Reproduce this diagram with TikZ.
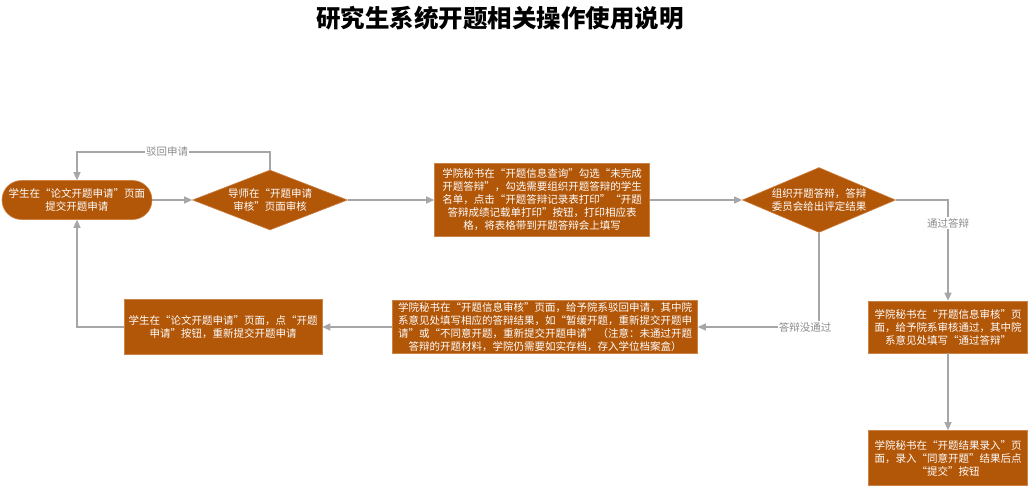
\documentclass[tikz,border=0pt]{standalone}
\usepackage{fontspec}
\setmainfont{Noto Sans CJK SC}
\usetikzlibrary{shapes.geometric,arrows.meta}
\definecolor{boxfill}{RGB}{178,86,8}
\definecolor{boxline}{RGB}{205,130,70}
\definecolor{flowgray}{RGB}{166,166,166}
\definecolor{labgray}{RGB}{140,140,140}
\tikzset{
  base/.style={fill=boxfill, draw=boxline, line width=0.6pt, text=white, align=center,
    font=\fontsize{10.5}{13}\selectfont, inner sep=2pt},
  procbox/.style={base, rectangle},
  startbox/.style={base, rectangle, rounded corners=19.5pt},
  decision/.style={base, diamond, aspect=2.58, inner sep=0pt},
  flow/.style={draw=flowgray, line width=1.2pt, -{Triangle[length=8pt,width=7pt]}},
  flowlabel/.style={fill=white, text=labgray, font=\fontsize{10.5}{12}\selectfont, inner sep=1pt}
}
\begin{document}
\begin{tikzpicture}[x=1pt,y=-1pt]
\useasboundingbox (0,0) rectangle (1029,487);
\node[font=\bfseries\fontsize{24.5}{28}\selectfont] (title) at (500,18) {研究生系统开题相关操作使用说明};

\node[startbox, minimum width=150pt, minimum height=39pt] (start) at (77,200)
  {学生在“论文开题申请”页面\\提交开题申请};
\node[decision, minimum width=155pt, minimum height=60pt] (d1) at (270,200)
  {导师在“开题申请\\审核”页面审核};
\node[procbox, minimum width=215pt, minimum height=73pt] (b2) at (542,200)
  {学院秘书在“开题信息查询”勾选“未完成\\开题答辩”，勾选需要组织开题答辩的学生\\名单，点击“开题答辩记录表打印”“开题\\答辩成绩记载单打印”按钮，打印相应表\\格，将表格带到开题答辩会上填写};
\node[decision, minimum width=148pt, minimum height=65pt] (d2) at (819,200)
  {组织开题答辩，答辩\\委员会给出评定结果};
\node[procbox, minimum width=159pt, minimum height=52pt] (b3) at (948,327)
  {学院秘书在“开题信息审核”页\\面，给予院系审核通过，其中院\\系意见处填写“通过答辩”};
\node[procbox, minimum width=159pt, minimum height=55pt] (b4) at (948,458)
  {学院秘书在“开题结果录入”页\\面，录入“同意开题”结果后点\\“提交”按钮};
\node[procbox, minimum width=305pt, minimum height=53pt] (b5) at (545,327)
  {学院秘书在“开题信息审核”页面，给予院系驳回申请，其中院\\系意见处填写相应的答辩结果，如“暂缓开题，重新提交开题申\\请”或“不同意开题，重新提交开题申请”（注意：未通过开题\\答辩的开题材料，学院仍需要如实存档，存入学位档案盒）};
\node[procbox, minimum width=198pt, minimum height=55pt] (b6) at (223,327)
  {学生在“论文开题申请”页面，点“开题\\申请”按钮，重新提交开题申请};

\coordinate (loopTop) at (270,152);
\draw[flow] (start) -- (d1);
\draw[flow] (d1.north) -- (loopTop) -| (start.north);
\node[flowlabel] (lab1) at (167,152) {驳回申请};
\draw[flow] (d1) -- (b2);
\draw[flow] (b2) -- (d2);
\draw[flow] (d2.east) -| (b3.north);
\node[flowlabel] (lab2) at (948,223) {通过答辩};
\draw[flow] (b3) -- (b4);
\draw[flow] (d2.south) |- (b5.east);
\node[flowlabel] (lab3) at (805,327) {答辩没通过};
\draw[flow] (b5) -- (b6);
\draw[flow] (b6.west) -| (start.south);
\end{tikzpicture}
\end{document}
